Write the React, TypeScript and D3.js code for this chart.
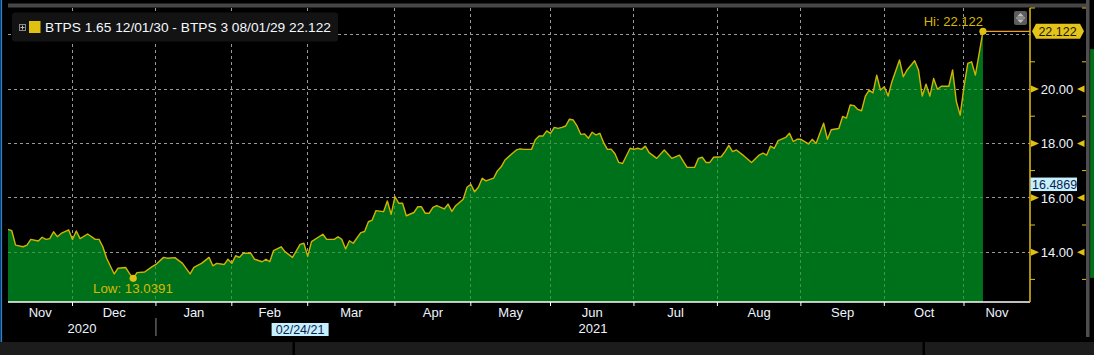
import { useEffect, useRef } from "react";
import * as d3 from "d3";

// trading-day offset from 06 Nov 2020 and the spread at that day
const days = [
  0, 1, 2, 4, 5, 6, 8, 9, 10, 11,
  12, 13, 14, 16, 17, 18, 19, 21, 23, 24,
  25, 26, 28, 29, 31, 32, 33, 34, 36, 38,
  39, 41, 42, 44, 46, 48, 49, 51, 53, 54,
  55, 57, 58, 59, 60, 61, 62, 64, 65, 67,
  68, 69, 70, 72, 73, 75, 77, 78, 79, 80,
  83, 84, 86, 87, 88, 89, 90, 91, 93, 94,
  95, 96, 97, 99, 100, 101, 102, 103, 104, 105,
  107, 108, 109, 110, 111, 112, 113, 115, 116, 117,
  118, 120, 121, 122, 123, 124, 125, 126, 128, 129,
  130, 131, 133, 134, 135, 136, 138, 139, 140, 141,
  142, 143, 144, 145, 146, 147, 148, 149, 150, 151,
  152, 153, 154, 155, 156, 157, 158, 159, 160, 161,
  162, 164, 165, 166, 167, 168, 169, 171, 173, 175,
  177, 179, 181, 182, 183, 184, 185, 186, 188, 189,
  190, 191, 192, 194, 196, 198, 199, 200, 201, 202,
  203, 205, 206, 207, 208, 209, 211, 212, 213, 215,
  216, 217, 219, 220, 221, 222, 223, 224, 225, 226,
  227, 228, 229, 230, 231, 232, 233, 235, 236, 237,
  239, 240, 241, 242, 243, 244, 245, 246, 248, 249,
  250, 251, 252, 253, 254, 255, 256, 257,
];
const spread = [
  14.84, 14.79, 14.26, 14.2, 14.26, 14.47, 14.41, 14.55, 14.47, 14.5,
  14.75, 14.57, 14.69, 14.82, 14.47, 14.78, 14.5, 14.67, 14.47, 14.47,
  14.2, 13.78, 13.2, 13.41, 13.44, 13.22, 13.0391, 13.25, 13.27, 13.47,
  13.55, 13.81, 13.78, 13.8, 13.59, 13.2, 13.44, 13.59, 13.81, 13.5,
  13.59, 13.55, 13.74, 13.59, 13.87, 13.81, 13.96, 13.96, 13.74, 13.65,
  13.74, 13.65, 14.06, 14.2, 14.02, 13.81, 14.29, 14.33, 13.85, 14.39,
  14.66, 14.47, 14.47, 14.57, 14.47, 14.12, 14.42, 14.33, 14.72, 14.76,
  15.12, 15.18, 15.53, 15.49, 15.88, 15.39, 16.04, 15.8, 15.8, 15.34,
  15.46, 15.67, 15.67, 15.43, 15.43, 15.65, 15.71, 15.59, 15.77, 15.5,
  15.71, 15.95, 16.39, 16.5, 16.22, 16.39, 16.72, 16.62, 16.72, 16.99,
  17.14, 17.39, 17.64, 17.76, 17.8, 17.78, 17.78, 18.13, 18.27, 18.27,
  18.46, 18.37, 18.59, 18.55, 18.59, 18.64, 18.89, 18.86, 18.64, 18.33,
  18.35, 18.19, 18.41, 18.31, 18.37, 18.03, 17.78, 17.79, 17.62, 17.3,
  17.26, 17.82, 17.78, 17.82, 17.78, 17.9, 17.66, 17.45, 17.76, 17.45,
  17.57, 17.12, 17.12, 17.45, 17.49, 17.3, 17.3, 17.49, 17.51, 17.7,
  17.93, 17.7, 17.76, 17.54, 17.3, 17.57, 17.64, 17.57, 17.9, 17.82,
  18.1, 18.22, 18.37, 18.07, 18.15, 18.15, 17.98, 18.15, 18.0, 18.74,
  18.15, 18.5, 18.55, 18.99, 18.93, 19.41, 19.39, 19.25, 19.2, 19.74,
  19.96, 19.86, 20.51, 19.96, 20.08, 19.74, 20.27, 21.07, 20.45, 20.7,
  21.04, 20.7, 19.74, 20.18, 19.74, 20.39, 19.99, 20.1, 20.1, 20.7,
  19.53, 19.04, 20.09, 20.94, 21.0, 20.51, 21.31, 22.122,
];

const monthStarts = [17, 39, 59, 79, 102, 122, 143, 165, 187, 209, 231, 252];
const monthLabels = ["Nov", "Dec", "Jan", "Feb", "Mar", "Apr", "May", "Jun", "Jul", "Aug", "Sep", "Oct", "Nov"];
const yearLabels = ["2020", "2021"];
const yearBreak = 39;
const lastDay = 269.4;
const gridValues = [14, 16, 18, 20, 22];
const labelValues = [14, 16, 18, 20];
const minorValues = [13, 15, 17, 19, 21];
const lowDay = 33;
const lowValue = 13.0391;
const hiDay = 257;
const hiValue = 22.122;
const crossValue = 16.4869;
const crossDate = "02/24/21";
const crossDay = 77;
const legendText = "BTPS 1.65 12/01/30 - BTPS 3 08/01/29 22.122";

const W = 1094;
const H = 355;
const FONT = "'Liberation Sans', Arial, sans-serif";

export default function App() {
  const svgRef = useRef<SVGSVGElement>(null);

  useEffect(() => {
    if (!svgRef.current) return;
    const svg = d3.select(svgRef.current);
    svg.selectAll("*").remove();

    const left = 8, right = 1030, top = 8, bottom = 302;
    const x = d3.scaleLinear().domain([0, lastDay]).range([left, right]);
    const y = d3.scaleLinear().domain([14, 20]).range([252.2, 89]);
    const pts: [number, number][] = days.map((d, i) => [d, spread[i]]);

    svg.append("rect").attr("width", W).attr("height", H).attr("fill", "#000");

    // frame pieces
    svg.append("rect").attr("x", 0.5).attr("y", 0).attr("width", 1.6).attr("height", 342).attr("fill", "#2f80d0");
    svg.append("rect").attr("x", left).attr("y", 3.5).attr("width", 1078).attr("height", 4).attr("fill", "#474747");
    svg.append("rect").attr("x", 1086).attr("y", 0).attr("width", 3.5).attr("height", 337).attr("fill", "#4e4e4e");
    svg.append("rect").attr("x", 1090).attr("y", 49).attr("width", 4).attr("height", 229).attr("fill", "#0a5a14");
    svg.append("rect").attr("x", 1091).attr("y", 50).attr("width", 3).attr("height", 227).attr("fill", "#00711b");
    svg.append("rect").attr("x", 0).attr("y", 342).attr("width", W).attr("height", 13).attr("fill", "#1c1c1c");
    [292.5, 922.5].forEach(px =>
      svg.append("rect").attr("x", px).attr("y", 342).attr("width", 2.5).attr("height", 13).attr("fill", "#000"));

    const drawGrid = (g: d3.Selection<SVGGElement, unknown, null, undefined>, color: string) => {
      g.selectAll("line.h").data(gridValues).join("line")
        .attr("x1", left).attr("x2", right)
        .attr("y1", d => y(d)).attr("y2", d => y(d))
        .attr("stroke", color).attr("stroke-dasharray", "3,3");
      g.selectAll("line.v").data(monthStarts).join("line")
        .attr("x1", d => x(d)).attr("x2", d => x(d))
        .attr("y1", top).attr("y2", bottom)
        .attr("stroke", color).attr("stroke-dasharray", "3,3");
    };

    const gridGray = svg.append("g").attr("shape-rendering", "crispEdges");
    drawGrid(gridGray, "#9a9a9a");

    const area = d3.area<[number, number]>()
      .x(d => x(d[0])).y0(bottom).y1(d => y(d[1]));
    const line = d3.line<[number, number]>().x(d => x(d[0])).y(d => y(d[1]));

    svg.append("clipPath").attr("id", "areaClip").append("path").attr("d", area(pts));
    svg.append("path").attr("d", area(pts)).attr("fill", "#00711b");
    const gridGreen = svg.append("g").attr("clip-path", "url(#areaClip)").attr("shape-rendering", "crispEdges");
    drawGrid(gridGreen, "#3f9a45");

    svg.append("path").attr("d", line(pts)).attr("fill", "none")
      .attr("stroke", "#d2b400").attr("stroke-width", 1.4).attr("stroke-linejoin", "round");

    // bottom axis
    svg.append("line").attr("x1", left).attr("x2", right).attr("y1", bottom).attr("y2", bottom)
      .attr("stroke", "#fff").attr("stroke-width", 1.5);
    svg.append("g").selectAll("line").data(monthStarts).join("line")
      .attr("x1", d => x(d)).attr("x2", d => x(d)).attr("y1", bottom).attr("y2", bottom + 4)
      .attr("stroke", "#fff");
    const edges = [0, ...monthStarts, lastDay];
    svg.append("g").selectAll("text").data(monthLabels).join("text")
      .attr("x", (_, i) => (x(edges[i]) + x(edges[i + 1])) / 2)
      .attr("y", 316.5).attr("text-anchor", "middle")
      .attr("font-family", FONT).attr("font-size", 13).attr("fill", "#eef4ff")
      .text(d => d);
    svg.append("line").attr("x1", x(yearBreak)).attr("x2", x(yearBreak)).attr("y1", 318).attr("y2", 336)
      .attr("stroke", "#8a8a8a");
    const yearEdges = [0, yearBreak, lastDay];
    svg.append("g").selectAll("text").data(yearLabels).join("text")
      .attr("x", (_, i) => (x(yearEdges[i]) + x(yearEdges[i + 1])) / 2)
      .attr("y", 333).attr("text-anchor", "middle")
      .attr("font-family", FONT).attr("font-size", 13).attr("fill", "#eef4ff")
      .text(d => d);

    // crosshair date tag
    const cx = x(crossDay);
    svg.append("rect").attr("x", cx - 28.5).attr("y", 323).attr("width", 57).attr("height", 13).attr("fill", "#c4f0ff");
    svg.append("text").attr("x", cx).attr("y", 334).attr("text-anchor", "middle")
      .attr("font-family", FONT).attr("font-size", 12.5).attr("fill", "#10204a").text(crossDate);

    // right axis
    svg.append("line").attr("x1", right).attr("x2", right).attr("y1", top).attr("y2", bottom)
      .attr("stroke", "#e0c010").attr("stroke-width", 1.5);
    svg.append("line").attr("x1", right).attr("x2", right + 5).attr("y1", top).attr("y2", top)
      .attr("stroke", "#e0c010");
    svg.append("line").attr("x1", 1082).attr("x2", 1086).attr("y1", top).attr("y2", top)
      .attr("stroke", "#e0c010");
    const minor = svg.append("g").attr("stroke", "#e0c010");
    minorValues.forEach(v => {
      minor.append("line").attr("x1", right).attr("x2", right + 5).attr("y1", y(v)).attr("y2", y(v));
      minor.append("line").attr("x1", 1082).attr("x2", 1086).attr("y1", y(v)).attr("y2", y(v));
    });
    const lab = svg.append("g");
    labelValues.forEach(v => {
      const yy = y(v);
      lab.append("path").attr("d", `M${right + 1},${yy - 3.5}L${right + 9},${yy}L${right + 1},${yy + 3.5}Z`).attr("fill", "#e0c010");
      lab.append("path").attr("d", `M1084.5,${yy - 3.5}L1077,${yy}L1084.5,${yy + 3.5}Z`).attr("fill", "#e0c010");
      lab.append("text").attr("x", 1057).attr("y", yy + 5).attr("text-anchor", "middle")
        .attr("font-family", FONT).attr("font-size", 13).attr("fill", "#eef4ff")
        .text(d3.format(".2f")(v));
    });

    // current value tag
    const cy = y(crossValue);
    svg.append("rect").attr("x", right + 0.5).attr("y", cy - 7).attr("width", 46.5).attr("height", 13.5).attr("fill", "#c4f0ff");
    svg.append("text").attr("x", right + 2).attr("y", cy + 4.5)
      .attr("font-family", FONT).attr("font-size", 12.5).attr("fill", "#10204a").text(String(crossValue));

    // high marker
    const hx = x(hiDay), hy = y(hiValue);
    svg.append("line").attr("x1", hx).attr("x2", right).attr("y1", hy).attr("y2", hy)
      .attr("stroke", "#f0a020").attr("stroke-width", 1.3);
    svg.append("circle").attr("cx", hx).attr("cy", hy).attr("r", 3.6).attr("fill", "#e0c010");
    svg.append("text").attr("x", hx).attr("y", hy - 5.5).attr("text-anchor", "end")
      .attr("font-family", FONT).attr("font-size", 13).attr("fill", "#d8b800").text(`Hi: ${hiValue}`);
    svg.append("path")
      .attr("d", `M${right + 2},${hy}L${right + 6},${hy - 7.5}L1080,${hy - 7.5}L1084,${hy}L1080,${hy + 7.5}L${right + 6},${hy + 7.5}Z`)
      .attr("fill", "#e4c31a");
    svg.append("text").attr("x", 1057.5).attr("y", hy + 4.8).attr("text-anchor", "middle")
      .attr("font-family", FONT).attr("font-size", 12.5).attr("fill", "#1a1a00").text(String(hiValue));

    // low marker
    const lx = x(lowDay), ly = y(lowValue);
    svg.append("circle").attr("cx", lx).attr("cy", ly).attr("r", 3.6).attr("fill", "#e0c010");
    svg.append("text").attr("x", 93).attr("y", 292.5)
      .attr("font-family", FONT).attr("font-size", 13.3).attr("fill", "#d8b800").text(`Low: ${lowValue}`);

    // scroll widget
    svg.append("rect").attr("x", 1014).attr("y", 11).attr("width", 13).attr("height", 14).attr("rx", 2).attr("fill", "#5c5c5c");
    svg.append("path").attr("d", "M1017,16.5L1020.5,13L1024,16.5Z M1017,19.5L1020.5,23L1024,19.5Z").attr("fill", "#bdbdbd");
    svg.append("rect").attr("x", 1016).attr("y", 17.5).attr("width", 9).attr("height", 1).attr("fill", "#bdbdbd");

    // legend
    svg.append("rect").attr("x", 12).attr("y", 12.5).attr("width", 326).attr("height", 29).attr("rx", 3).attr("fill", "#131313");
    svg.append("rect").attr("x", 19.5).attr("y", 24.5).attr("width", 6).attr("height", 6).attr("fill", "none").attr("stroke", "#8a8a8a");
    svg.append("path").attr("d", "M20.5,27.5h4M22.5,25.5v4").attr("stroke", "#bbbbbb");
    svg.append("rect").attr("x", 29).attr("y", 21).attr("width", 11.5).attr("height", 12).attr("fill", "#e0c010");
    svg.append("text").attr("x", 45).attr("y", 32)
      .attr("font-family", FONT).attr("font-size", 13.5).attr("fill", "#f4f8ff")
      .attr("textLength", 286).attr("lengthAdjust", "spacingAndGlyphs").text(legendText);
  }, []);

  return (
    <div style={{ position: "absolute", left: 0, top: 0, width: W, height: H, background: "#000" }}>
      <svg ref={svgRef} width={W} height={H} style={{ display: "block" }} />
    </div>
  );
}
